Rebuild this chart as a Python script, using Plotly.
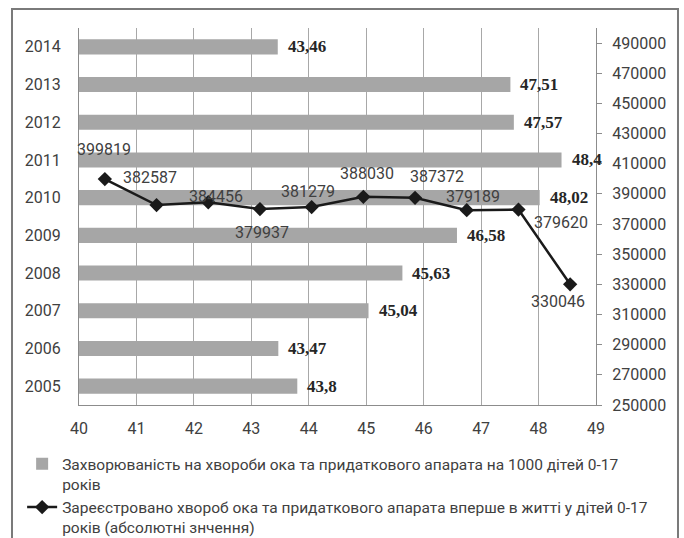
import plotly.graph_objects as go

years = ["2005", "2006", "2007", "2008", "2009", "2010", "2011", "2012", "2013", "2014"]
rate = [43.8, 43.47, 45.04, 45.63, 46.58, 48.02, 48.4, 47.57, 47.51, 43.46]
registered = [399819, 382587, 384456, 379937, 381279, 388030, 387372, 379189, 379620, 330046]
bar_name = "Захворюваність на хвороби ока та придаткового апарата на 1000 дітей 0-17<br>років"
line_name = "Зареєстровано хвороб ока та придаткового апарата вперше в житті у дітей 0-17<br>років (абсолютні знчення)"

# label offsets (pixels) for the line value labels
lbl_dx = [-1, -7, 8, 2, -4, 4, 22, 6, 43, -12]
lbl_dy = [30, 28, 6, -23, 16, 23, 21, 14, -13, -17]

FONT = "Roboto, Liberation Sans, sans-serif"
TXT = "#404040"
GRID = "#a8a8a8"

fig = go.Figure()
fig.add_trace(go.Bar(
    y=years, x=rate, orientation="h", name=bar_name,
    marker=dict(color="#a6a6a6", line=dict(width=0)), width=0.4,
))
fig.add_trace(go.Scatter(
    x=list(range(len(registered))), y=registered, xaxis="x2", yaxis="y2",
    mode="lines+markers", name=line_name,
    line=dict(color="#1a1a1a", width=2.5),
    marker=dict(symbol="diamond", size=11, color="#1a1a1a"),
))

annotations = []
for i, v in enumerate(rate):
    annotations.append(dict(
        x=v, y=i, xref="x", yref="y", text="<b>" + str(v).replace(".", ",") + "</b>",
        showarrow=False, xanchor="left", yanchor="middle", xshift=8,
        font=dict(family="Liberation Serif, Times New Roman, serif", size=17, color="#262626"),
    ))
for i, v in enumerate(registered):
    annotations.append(dict(
        x=i, y=v, xref="x2", yref="y2", text=str(v),
        showarrow=False, xanchor="center", yanchor="middle",
        xshift=lbl_dx[i], yshift=lbl_dy[i],
        font=dict(family=FONT, size=16, color=TXT),
    ))

fig.update_layout(
    width=684, height=538,
    margin=dict(l=79, r=88, t=28, b=133, autoexpand=False),
    paper_bgcolor="white", plot_bgcolor="white",
    font=dict(family=FONT, size=16, color=TXT),
    showlegend=True,
    legend=dict(
        x=-0.110, y=-0.112, xanchor="left", yanchor="top",
        font=dict(family=FONT, size=15.5, color=TXT),
        valign="top", tracegroupgap=0, bgcolor="rgba(0,0,0,0)",
    ),
    xaxis=dict(
        range=[40, 49], dtick=1, tick0=40, showgrid=True, gridcolor=GRID, gridwidth=1,
        showline=True, linecolor="#8c8c8c", linewidth=1, zeroline=False,
        ticks="", ticklabelstandoff=9, tickfont=dict(size=16, color=TXT),
    ),
    yaxis=dict(
        type="category", categoryorder="array", categoryarray=years,
        range=[-0.5, 9.5], showgrid=False, showline=True, linecolor="#8c8c8c", linewidth=1,
        ticks="", ticklabelstandoff=14, tickfont=dict(size=16, color=TXT),
    ),
    xaxis2=dict(overlaying="x", range=[-0.5, 9.5], visible=False, anchor="y2"),
    yaxis2=dict(
        overlaying="y", side="right", range=[250000, 500000], tick0=250000, dtick=20000,
        showgrid=False, zeroline=False, showline=True, linecolor="#8c8c8c", linewidth=1,
        ticks="outside", ticklen=5, tickcolor="#8c8c8c", ticklabelstandoff=7,
        tickfont=dict(size=16, color=TXT), tickformat="d",
    ),
    annotations=annotations,
    shapes=[dict(
        type="rect", xref="paper", yref="paper",
        x0=-0.1296, x1=1.1586, y0=-0.45, y1=1.0504,
        line=dict(color="#7a7a7a", width=2), fillcolor="rgba(0,0,0,0)", layer="above",
    )],
)

fig.write_html("out.html", config={"displayModeBar": False},
               post_script="document.body.style.margin='0';")
